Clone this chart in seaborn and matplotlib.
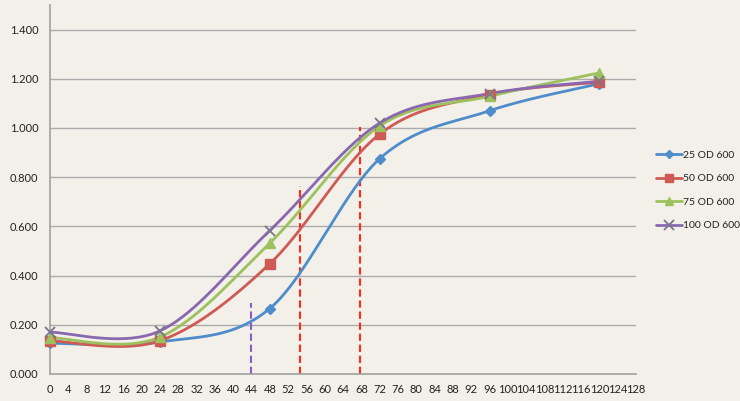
import numpy as np
import pandas as pd
import matplotlib
matplotlib.use("Agg")
import matplotlib.pyplot as plt
import seaborn as sns
from matplotlib.lines import Line2D

# ---- data ----
hours = [0, 24, 48, 72, 96, 120]
od25 = [0.125, 0.130, 0.266, 0.875, 1.070, 1.180]
od50 = [0.135, 0.135, 0.448, 0.975, 1.135, 1.186]
od75 = [0.148, 0.150, 0.532, 1.008, 1.129, 1.224]
od100 = [0.170, 0.175, 0.583, 1.020, 1.140, 1.190]
series_names = ["25 OD 600", "50 OD 600", "75 OD 600", "100 OD 600"]
xticks = list(range(0, 129, 4))
yticks = [0.0, 0.2, 0.4, 0.6, 0.8, 1.0, 1.2, 1.4]
# dashed marker lines: (x, top value)
vlines_x = [44, 54.7, 67.8]
vlines_top = [0.289, 0.765, 1.005]
vlines_col = ["#8A5CC8", "#FF2A1A", "#FF2A1A"]

colors = ["#4F8CCB", "#CF5A55", "#9DC15C", "#8A68B0"]
markers = ["D", "s", "^", "x"]
msizes = [5, 7, 6.5, 7]


def smooth(xs, ys, n=40):
    """Excel-like smoothed line (Catmull-Rom Bezier)."""
    P = np.column_stack([xs, ys]).astype(float)
    Pext = np.vstack([P[0], P, P[-1]])
    out = []
    t = np.linspace(0, 1, n)
    for i in range(len(P) - 1):
        p0 = Pext[i + 1]
        p3 = Pext[i + 2]
        c1 = p0 + (Pext[i + 2] - Pext[i]) / 6.0
        c2 = p3 - (Pext[i + 3] - Pext[i + 1]) / 6.0
        seg = ((1 - t)[:, None] ** 3 * p0 + 3 * ((1 - t) ** 2 * t)[:, None] * c1
               + 3 * ((1 - t) * t ** 2)[:, None] * c2 + (t ** 3)[:, None] * p3)
        out.append(seg if i == 0 else seg[1:])
    return np.vstack(out)


all_series = [od25, od50, od75, od100]
rows = []
for name, ys in zip(series_names, all_series):
    pts = smooth(hours, ys)
    for k, (x, y) in enumerate(pts):
        rows.append({"hour": x, "od": y, "series": name, "k": k})
curve_df = pd.DataFrame(rows)
pt_df = pd.DataFrame({
    "hour": hours * 4,
    "od": sum(all_series, []),
    "series": sum([[n] * len(hours) for n in series_names], []),
})

bg = "#F2F0E8"
sns.set_theme(style="white")
plt.rcParams["font.family"] = ["Lato", "DejaVu Sans"]

fig = plt.figure(figsize=(7.4, 4.01), dpi=100, facecolor=bg)
ax = fig.add_axes([50 / 740, 1 - 374 / 401, (636 - 50) / 740, (374 - 5) / 401])
ax.set_facecolor(bg)

palette = dict(zip(series_names, colors))
for y in yticks[1:]:
    ax.axhline(y, color="#ACACAC", lw=1.0, zorder=0)

for x, top, c in zip(vlines_x, vlines_top, vlines_col):
    ax.plot([x, x], [0, top], color=c, lw=1.5, ls=(0, (3.5, 1.8)), zorder=1)

sns.lineplot(data=curve_df, x="hour", y="od", hue="series", units="series",
             estimator=None, sort=False, palette=palette, lw=2.0,
             legend=False, ax=ax, zorder=3)
for name, m, ms in zip(series_names, markers, msizes):
    sub = pt_df[pt_df.series == name]
    c = palette[name]
    if m == "x":
        ax.plot(sub.hour, sub.od, ls="none", marker=m, ms=ms, mew=1.3,
                color="#7A7490", zorder=4, clip_on=False)
    else:
        ax.plot(sub.hour, sub.od, ls="none", marker=m, ms=ms, color=c,
                mec=c, zorder=4, clip_on=False)

ax.set_xlim(0, 128)
ax.set_ylim(0, 1.5)
ax.set_xticks(xticks)
ax.set_xticklabels([str(v) for v in xticks])
ax.set_yticks(yticks)
ax.set_yticklabels([f"{v:.3f}" for v in yticks])
ax.tick_params(axis="x", direction="out", length=4, width=1, color="#A0A0A0",
               labelsize=8, pad=3, labelcolor="#222222")
ax.tick_params(axis="y", length=0, labelsize=8, pad=8.5, labelcolor="#222222")
for s in ["top", "right"]:
    ax.spines[s].set_visible(False)
for s in ["left", "bottom"]:
    ax.spines[s].set_color("#A0A0A0")
    ax.spines[s].set_linewidth(1.2)
ax.set_xlabel("")
ax.set_ylabel("")

handles = []
for name, m, ms, c in zip(series_names, markers, msizes, colors):
    if m == "x":
        handles.append(Line2D([0], [0], color=c, lw=2, marker=m, ms=ms,
                              mec="#7A7490", mew=1.3))
    else:
        handles.append(Line2D([0], [0], color=c, lw=2, marker=m, ms=ms * 0.9,
                              mec=c))
leg = fig.legend(handles, series_names, loc="center left",
                 bbox_to_anchor=(652 / 740, 1 - 190.5 / 401), frameon=False,
                 fontsize=7.5, handlelength=2.5, handletextpad=0.1,
                 labelspacing=1.35, borderaxespad=0)
for t in leg.get_texts():
    t.set_color("#222222")

fig.savefig("out.png", dpi=100, facecolor=bg)
